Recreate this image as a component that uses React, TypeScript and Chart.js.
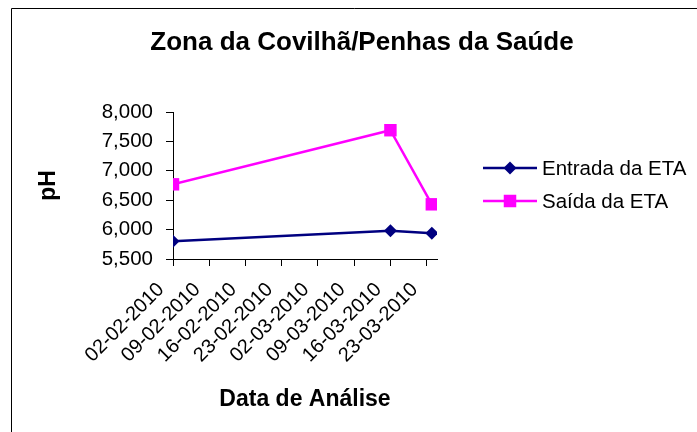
import React, { useEffect, useRef } from 'react';
import { Chart, registerables } from 'chart.js';

Chart.register(...registerables);

// ---- data ----
const DATES = ['02-02-2010', '16-03-2010', '24-03-2010'];
const ENTRADA = [5.8, 5.98, 5.94];
const SAIDA = [6.77, 7.69, 6.43];
const SERIES_NAMES = ['Entrada da ETA', 'Saída da ETA'];
const SERIES_COLORS = ['#000080', '#FF00FF'];
const AXIS_START = '02-02-2010';
const AXIS_END = '25-03-2010';
const TICK_STEP_DAYS = 7;
const Y_MIN = 5.5;
const Y_MAX = 8;
const Y_STEP = 0.5;
const TITLE = 'Zona da Covilhã/Penhas da Saúde';
const X_TITLE = 'Data de Análise';
const Y_TITLE = 'pH';

const FONT = '"Liberation Sans", Arial, Helvetica, sans-serif';

function toDay(s: string): number {
  const [d, m, y] = s.split('-').map(Number);
  return Date.UTC(y, m - 1, d) / 86400000;
}
const BASE_DAY = toDay(AXIS_START);
function dayLabel(v: number): string {
  const dt = new Date((BASE_DAY + v) * 86400000);
  const dd = String(dt.getUTCDate()).padStart(2, '0');
  const mm = String(dt.getUTCMonth() + 1).padStart(2, '0');
  return `${dd}-${mm}-${dt.getUTCFullYear()}`;
}
const toPoints = (vals: number[]) => DATES.map((d, i) => ({ x: toDay(d) - BASE_DAY, y: vals[i] }));

function drawDiamond(ctx: CanvasRenderingContext2D, x: number, y: number, r: number) {
  ctx.beginPath();
  ctx.moveTo(x - r, y);
  ctx.lineTo(x, y - r);
  ctx.lineTo(x + r, y);
  ctx.lineTo(x, y + r);
  ctx.closePath();
  ctx.fill();
}
function drawSquare(ctx: CanvasRenderingContext2D, x: number, y: number, s: number) {
  ctx.fillRect(x - s / 2, y - s / 2, s, s);
}

const decorPlugin = {
  id: 'decor',
  afterDraw(chart: any) {
    const ctx: CanvasRenderingContext2D = chart.ctx;
    ctx.save();
    // chart-area border (cropped on right/bottom)
    ctx.strokeStyle = '#000';
    ctx.lineWidth = 1;
    ctx.beginPath();
    ctx.moveTo(11.5, 432);
    ctx.lineTo(11.5, 8.5);
    ctx.lineTo(697, 8.5);
    ctx.stroke();
    // title
    ctx.fillStyle = '#000';
    ctx.font = `bold 26px ${FONT}`;
    ctx.textAlign = 'center';
    ctx.textBaseline = 'middle';
    ctx.fillText(TITLE, 362, 43);
    // legend
    const rows = [168, 201];
    SERIES_NAMES.forEach((name, i) => {
      const y = rows[i];
      ctx.strokeStyle = SERIES_COLORS[i];
      ctx.fillStyle = SERIES_COLORS[i];
      ctx.lineWidth = 2.5;
      ctx.beginPath();
      ctx.moveTo(483, y);
      ctx.lineTo(537, y);
      ctx.stroke();
      if (i === 0) drawDiamond(ctx, 510, y, 6.5);
      else drawSquare(ctx, 510, y, 12.5);
      ctx.fillStyle = '#000';
      ctx.font = `20.5px ${FONT}`;
      ctx.textAlign = 'left';
      ctx.textBaseline = 'middle';
      ctx.fillText(name, 542, y + 1);
    });
    ctx.restore();
  },
};

export default function App() {
  const ref = useRef<HTMLCanvasElement | null>(null);
  useEffect(() => {
    if (!ref.current) return;
    const chart = new Chart(ref.current, {
      type: 'line',
      data: {
        datasets: [
          {
            label: SERIES_NAMES[0],
            data: toPoints(ENTRADA),
            borderColor: SERIES_COLORS[0],
            backgroundColor: SERIES_COLORS[0],
            borderWidth: 2.5,
            pointStyle: 'rectRot',
            pointRadius: 6.5,
            pointBorderWidth: 0,
            tension: 0,
          },
          {
            label: SERIES_NAMES[1],
            data: toPoints(SAIDA),
            borderColor: SERIES_COLORS[1],
            backgroundColor: SERIES_COLORS[1],
            borderWidth: 2.5,
            pointStyle: 'rect',
            pointRadius: 8.8,
            pointBorderWidth: 0,
            tension: 0,
          },
        ],
      },
      options: {
        animation: false,
        responsive: false,
        devicePixelRatio: 1,
        layout: { padding: { left: 0, top: 112, right: 260, bottom: 0 } },
        plugins: {
          legend: { display: false },
          title: { display: false },
          tooltip: { enabled: false },
        },
        scales: {
          x: {
            type: 'linear',
            min: 0,
            max: toDay(AXIS_END) - BASE_DAY,
            afterFit: (s: any) => { s.height = 173; },
            grid: { display: true, drawOnChartArea: false, drawTicks: true, tickLength: 7, color: '#000', lineWidth: 1 },
            border: { display: true, color: '#000', width: 1 },
            ticks: {
              stepSize: TICK_STEP_DAYS,
              includeBounds: false,
              autoSkip: false,
              minRotation: 45,
              maxRotation: 45,
              padding: 12,
              labelOffset: -12,
              color: '#000',
              font: { family: FONT, size: 20 },
              callback: (v: any) => dayLabel(Number(v)),
            },
            title: {
              display: true,
              text: X_TITLE,
              color: '#000',
              font: { family: FONT, size: 23, weight: 'bold' },
              padding: { top: 0, bottom: 19 },
            },
          },
          y: {
            type: 'linear',
            min: Y_MIN,
            max: Y_MAX,
            afterFit: (s: any) => { s.width = 173; },
            grid: { display: true, drawOnChartArea: false, drawTicks: true, tickLength: 7, color: '#000', lineWidth: 1 },
            border: { display: true, color: '#000', width: 1 },
            ticks: {
              stepSize: Y_STEP,
              padding: 13,
              color: '#000',
              font: { family: FONT, size: 20.5 },
              callback: (v: any) => Number(v).toFixed(3).replace('.', ','),
            },
            title: {
              display: true,
              text: Y_TITLE,
              color: '#000',
              font: { family: FONT, size: 23, weight: 'bold' },
              padding: { top: 35, bottom: 0 },
            },
          },
        },
      },
      plugins: [decorPlugin],
    } as any);
    return () => chart.destroy();
  }, []);
  return (
    <div style={{ position: 'fixed', left: 0, top: 0, width: 697, height: 432, background: '#fff' }}>
      <canvas ref={ref} width={697} height={432} style={{ display: 'block', width: 697, height: 432 }} />
    </div>
  );
}
